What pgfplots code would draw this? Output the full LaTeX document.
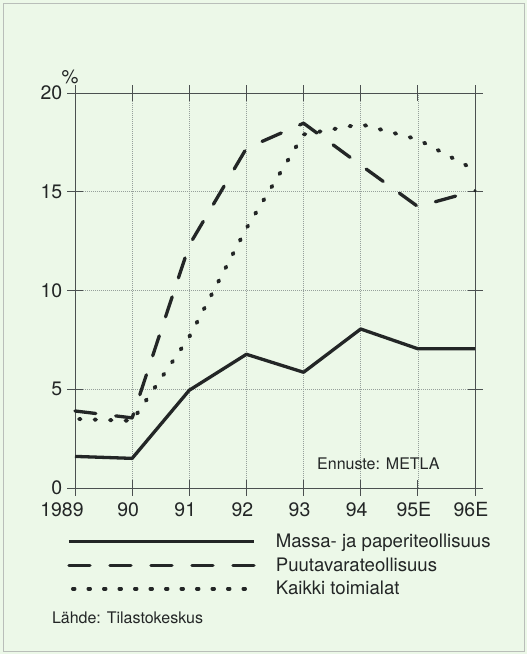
\documentclass[border=0pt]{standalone}
\usepackage{fontspec}
\setmainfont{TeX Gyre Heros}
\usepackage{pgfplots}
\pgfplotsset{compat=1.18}

\definecolor{bgmint}{RGB}{236,248,232}
\definecolor{frame}{RGB}{185,190,185}
\definecolor{ink}{RGB}{35,38,38}
\definecolor{axisgray}{RGB}{75,80,80}
\definecolor{gridgray}{RGB}{150,160,155}

\begin{document}
\begin{tikzpicture}
% tausta ja kehys (1 px = 1 pt)
\fill[bgmint] (0,0) rectangle (527pt,654pt);
\draw[frame, line width=0.8pt] (3pt,3pt) rectangle (524pt,651pt);

\begin{axis}[
  at={(75pt,166pt)}, anchor=south west,
  width=400pt, height=395pt, scale only axis,
  xmin=0, xmax=7, ymin=0, ymax=20,
  xtick={0,...,7},
  xticklabels={1989\hspace*{18pt},90,91,92,93,94,95E,96E},
  ytick={0,5,10,15,20},
  tick align=center, major tick length=15pt,
  tick style={axisgray, line width=0.9pt},
  axis line style={axisgray, line width=0.9pt},
  grid=major,
  major grid style={gridgray, line width=0.5pt, dash pattern=on 0.8pt off 1.2pt},
  tick label style={font=\fontsize{19.5}{22}\selectfont, text=ink},
  /pgf/number format/assume math mode=true,
  yticklabel style={anchor=east, inner sep=0pt, xshift=-5pt},
  xticklabel style={anchor=north, inner sep=0pt, yshift=-7pt, xshift=-4pt},
  clip=false,
  legend style={
    at={(-0.02,-0.1208)}, anchor=north west,
    draw=none, fill=none, inner sep=0pt, outer sep=0pt,
    row sep=11.5pt, column sep=20pt,
    font=\fontsize{18.6}{21}\selectfont, text=ink,
    nodes={inner sep=0pt, text height=12pt, text depth=0pt},
    cells={anchor=west},
  },
  legend cell align=left,
  legend image code/.code={\draw[#1] (0pt,0pt) -- (185pt,0pt);},
]

% Massa- ja paperiteollisuus
\addplot[ink, line width=3.3pt, line join=round] coordinates {
  (0,1.6) (1,1.5) (2,4.95) (3,6.77) (4,5.86) (5,8.05) (6,7.05) (7,7.05)
};
\addlegendentry{Massa- ja paperiteollisuus}

% Puutavarateollisuus
\addplot[ink, line width=3.3pt, line cap=round, line join=round,
  dash pattern=on 21pt off 20pt] coordinates {
  (0,3.9) (1,3.55) (2,12.3) (3,17.2) (4,18.47) (5,16.35) (6,14.25) (7,15.05)
};
\addlegendentry{Puutavarateollisuus}

% Kaikki toimialat
\addplot[ink, line width=3.9pt, line cap=round,
  dash pattern=on 1.6pt off 13.9pt, dash phase=-4pt] coordinates {
  (0,3.5) (1,3.4) (2,7.65) (3,13.15) (4,17.9) (5,18.42) (6,17.65) (7,16.1)
};
\addlegendentry{Kaikki toimialat}

\node[anchor=base, inner sep=0pt, text=ink, font=\fontsize{19}{21}\selectfont]
  at (axis description cs:-0.0125,1.0253) {\%};
\node[anchor=base west, inner sep=0pt, text=ink, font=\fontsize{16}{18}\selectfont]
  at (axis description cs:0.605,0.0456) {Ennuste: METLA};
\node[anchor=base west, inner sep=0pt, text=ink, font=\fontsize{16}{18}\selectfont]
  at (axis description cs:-0.058,-0.3418) {Lähde: Tilastokeskus};
\end{axis}
\end{tikzpicture}
\end{document}
